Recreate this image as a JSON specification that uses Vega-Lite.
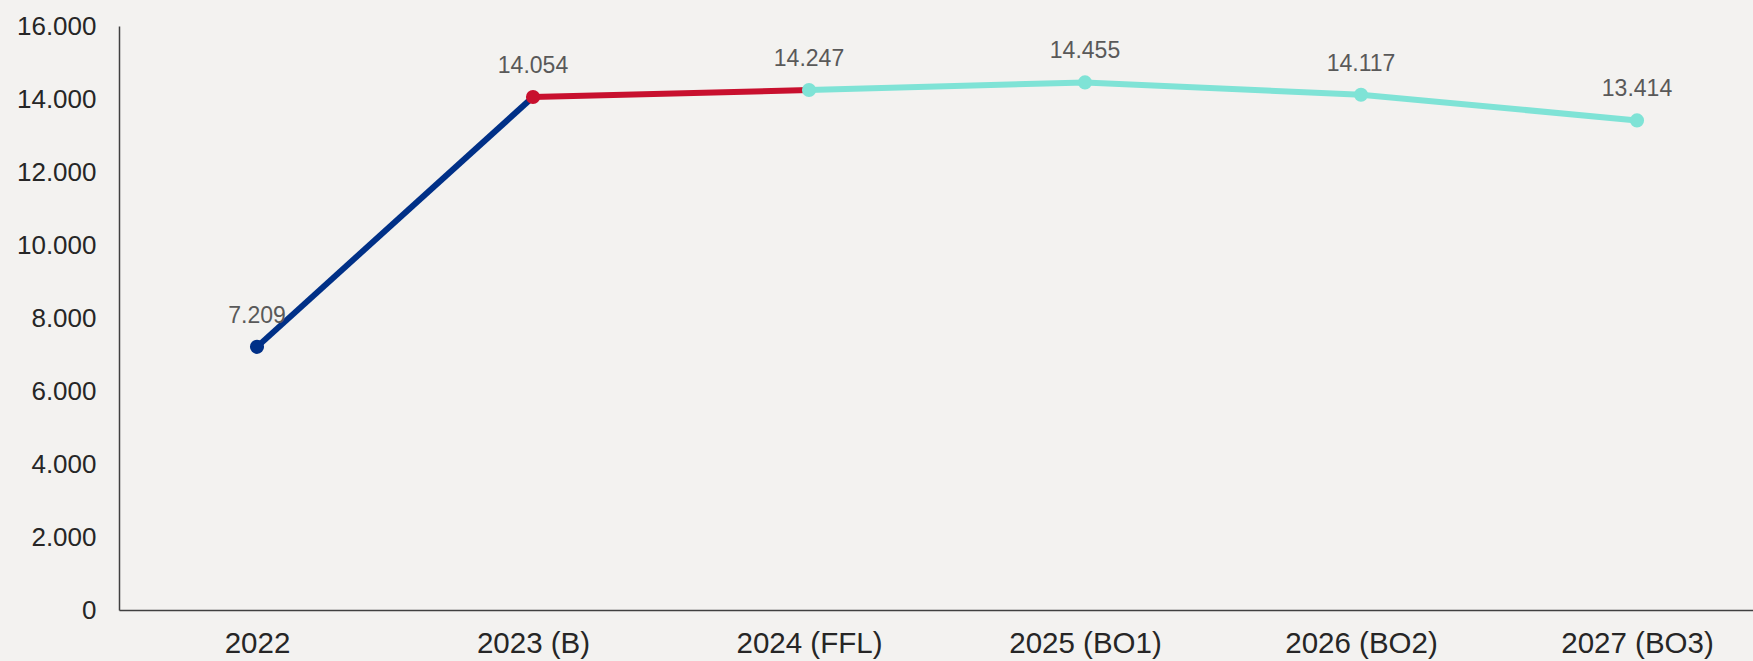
{
  "$schema": "https://vega.github.io/schema/vega-lite/v6.json",
  "autosize": "none",
  "width": 1656,
  "height": 584,
  "padding": {"left": 119, "top": 26, "right": 0, "bottom": 51},
  "background": "#F3F2F0",
  "config": {"view": {"stroke": null}, "font": "Liberation Sans"},
  "datasets": {
    "points": [
      {"year": "2022", "value": 7209, "phase": "actual"},
      {"year": "2023 (B)", "value": 14054, "phase": "budget"},
      {"year": "2024 (FFL)", "value": 14247, "phase": "forecast"},
      {"year": "2025 (BO1)", "value": 14455, "phase": "forecast"},
      {"year": "2026 (BO2)", "value": 14117, "phase": "forecast"},
      {"year": "2027 (BO3)", "value": 13414, "phase": "forecast"}
    ],
    "segments": [
      {"year": "2022", "value": 7209, "phase": "actual"},
      {"year": "2023 (B)", "value": 14054, "phase": "actual"},
      {"year": "2023 (B)", "value": 14054, "phase": "budget"},
      {"year": "2024 (FFL)", "value": 14247, "phase": "budget"},
      {"year": "2024 (FFL)", "value": 14247, "phase": "forecast"},
      {"year": "2025 (BO1)", "value": 14455, "phase": "forecast"},
      {"year": "2026 (BO2)", "value": 14117, "phase": "forecast"},
      {"year": "2027 (BO3)", "value": 13414, "phase": "forecast"}
    ]
  },
  "encoding": {
    "x": {
      "field": "year", "type": "ordinal",
      "sort": ["2022", "2023 (B)", "2024 (FFL)", "2025 (BO1)", "2026 (BO2)", "2027 (BO3)"],
      "scale": {"paddingInner": 0, "paddingOuter": 0.5},
      "axis": {
        "title": null, "labelAngle": 0, "ticks": false, "grid": false,
        "labelFontSize": 29.5, "labelColor": "#262626", "labelPadding": 19,
        "domainColor": "#404040", "domainWidth": 1.5
      }
    },
    "y": {
      "field": "value", "type": "quantitative",
      "scale": {"domain": [0, 16000], "nice": false},
      "axis": {
        "title": null, "values": [0, 2000, 4000, 6000, 8000, 10000, 12000, 14000, 16000],
        "labelExpr": "replace(format(datum.value, ','), ',', '.')",
        "ticks": false, "grid": false, "labelFontSize": 26, "labelColor": "#262626",
        "labelPadding": 23, "domainColor": "#404040", "domainWidth": 1.5
      }
    },
    "color": {
      "field": "phase", "type": "nominal",
      "scale": {"domain": ["actual", "budget", "forecast"], "range": ["#003087", "#C8102E", "#7FE3D6"]},
      "legend": null
    }
  },
  "layer": [
    {
      "data": {"name": "segments"},
      "mark": {"type": "line", "strokeWidth": 6},
      "encoding": {"detail": {"field": "phase"}}
    },
    {
      "data": {"name": "points"},
      "mark": {"type": "circle", "size": 200, "opacity": 1}
    },
    {
      "data": {"name": "points"},
      "mark": {"type": "text", "dy": -31, "fontSize": 23, "color": "#595959"},
      "encoding": {
        "text": {"field": "label"},
        "color": {"value": "#595959"}
      },
      "transform": [{"calculate": "replace(format(datum.value, ','), ',', '.')", "as": "label"}]
    }
  ]
}
